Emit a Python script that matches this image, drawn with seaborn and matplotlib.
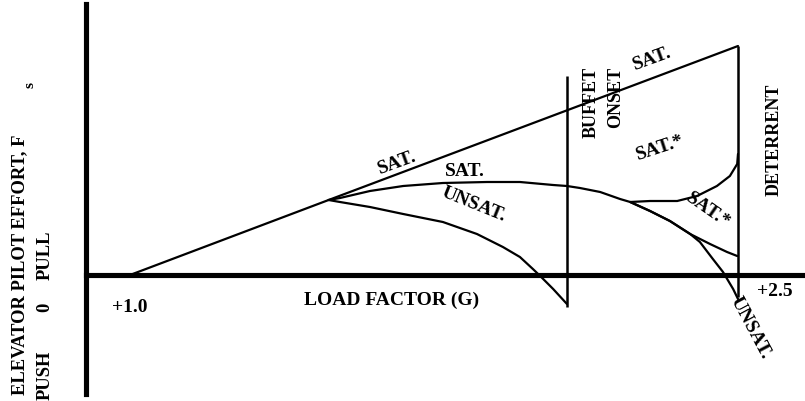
import matplotlib
matplotlib.use("Agg")
import matplotlib.pyplot as plt
import pandas as pd
import seaborn as sns

# load factor (G) vs elevator stick force (arbitrary units, 0 = trimmed)
main_lf = [1.0, 1.49, 2.5]
main_f = [0.0, 7.5, 22.9]

sat_lf = [1.49, 1.518, 1.592, 1.674, 1.772, 1.881, 1.962, 2.044, 2.078, 2.110, 2.160,
          2.209, 2.234, 2.283, 2.332, 2.382, 2.431, 2.473, 2.498]
sat_f = [7.5, 7.7, 8.4, 8.9, 9.2, 9.3, 9.3, 9.0, 8.9, 8.7, 8.3,
         7.6, 7.3, 6.4, 5.4, 4.1, 3.1, 2.3, 1.9]

unsat_lo_lf = [1.49, 1.518, 1.592, 1.674, 1.772, 1.856, 1.920, 1.962, 1.994, 2.012, 2.044, 2.078]
unsat_lo_f = [7.5, 7.3, 6.8, 6.1, 5.3, 4.1, 2.8, 1.8, 0.6, -0.1, -1.4, -2.9]

satstar_lf = [2.234, 2.283, 2.350, 2.399, 2.448, 2.480, 2.498, 2.500]
satstar_f = [7.3, 7.4, 7.4, 7.9, 8.9, 9.9, 11.1, 12.1]

unsat_hi_lf = [2.234, 2.283, 2.332, 2.382, 2.406, 2.438, 2.463, 2.488, 2.500]
unsat_hi_f = [7.3, 6.4, 5.4, 4.1, 3.3, 1.6, 0.3, -1.4, -2.4]

# boundary lines: (load factor, force bottom, force top)
buffet_lf, buffet_lo, buffet_hi = 2.078, -3.2, 19.9
deter_lf, deter_lo, deter_hi = 2.5, -2.2, 22.9

sns.set_style("white")
plt.rcParams['font.family'] = ['Liberation Serif', 'DejaVu Serif']
plt.rcParams['font.weight'] = 'bold'

fig = plt.figure(figsize=(8.05, 4.02), dpi=100)
ax = fig.add_axes([0, 0, 1, 1])

curves = [
    (main_lf, main_f),
    (sat_lf, sat_f),
    (unsat_lo_lf, unsat_lo_f),
    (satstar_lf, satstar_f),
    (unsat_hi_lf, unsat_hi_f),
]
for lf, f in curves:
    df = pd.DataFrame({"lf": lf, "f": f})
    sns.lineplot(data=df, x="lf", y="f", ax=ax, color="black", lw=1.6,
                 sort=False, estimator=None)

ax.vlines([buffet_lf, deter_lf], [buffet_lo, deter_lo], [buffet_hi, deter_hi],
          color="black", lw=1.8)

ax.set_xlim(0.6793, 2.6653)
ax.set_ylim(-12.6, 27.6)
ax.set_xlabel("")
ax.set_ylabel("")
ax.set_xticks([])
ax.set_yticks([])

# thick axes through the origin of the plot
for side in ["top", "right"]:
    ax.spines[side].set_visible(False)
ax.spines["left"].set_position(("data", 0.8914))
ax.spines["left"].set_bounds(-11.9, 27.1)
ax.spines["bottom"].set_position(("data", 0.0))
ax.spines["bottom"].set_bounds(0.8914, 2.6653)
for side in ["left", "bottom"]:
    ax.spines[side].set_linewidth(3.7)
    ax.spines[side].set_color("black")

fs = 14
kw = dict(color="black", fontweight="bold")
ax.text(1.0, -3.1, "+1.0", fontsize=fs, ha="center", va="center", **kw)
ax.text(2.591, -1.6, "+2.5", fontsize=fs, ha="center", va="center", **kw)
ax.text(1.646, -2.4, "LOAD FACTOR (G)", fontsize=fs, ha="center", va="center", **kw)

ax.text(1.659, 11.3, "SAT.", fontsize=fs, ha="center", va="center", rotation=20, **kw)
ax.text(2.288, 21.7, "SAT.", fontsize=fs, ha="center", va="center", rotation=20, **kw)
ax.text(1.826, 10.5, "SAT.", fontsize=fs, ha="center", va="center", **kw)
ax.text(1.849, 7.1, "UNSAT.", fontsize=fs, ha="center", va="center", rotation=-22, **kw)
ax.text(2.308, 12.8, "SAT.*", fontsize=fs, ha="center", va="center", rotation=18, **kw)
ax.text(2.426, 6.5, "SAT.*", fontsize=fs, ha="center", va="center", rotation=-35, **kw)
ax.text(2.530, -5.2, "UNSAT.", fontsize=fs, ha="center", va="center", rotation=-62, **kw)

ax.text(2.137, 20.9, "BUFFET", fontsize=13, ha="center", va="top", rotation=90, **kw)
ax.text(2.197, 20.9, "ONSET", fontsize=13, ha="center", va="top", rotation=90, **kw)
ax.text(2.589, 13.6, "DETERRENT", fontsize=13, ha="center", va="center", rotation=90, **kw)

# y axis label
ax.text(0.7286, -11.9, "ELEVATOR PILOT EFFORT, F", fontsize=13.3, ha="center", va="bottom",
        rotation=90, **kw)
ax.text(0.7533, 19.1, "s", fontsize=11, ha="center", va="center", rotation=90, **kw)
ax.text(0.790, -9.9, "PUSH", fontsize=13.3, ha="center", va="center", rotation=90, **kw)
ax.text(0.790, -3.1, "0", fontsize=13.3, ha="center", va="center", rotation=90, **kw)
ax.text(0.790, 2.1, "PULL", fontsize=13.3, ha="center", va="center", rotation=90, **kw)

plt.savefig("out.png", dpi=100)
